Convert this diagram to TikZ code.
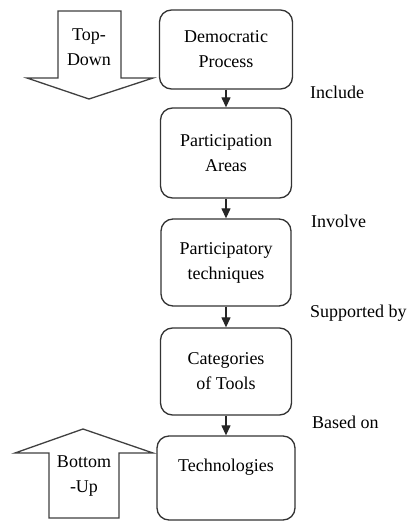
\documentclass[tikz,border=0pt]{standalone}
\usepackage{fontspec}
\setmainfont{Liberation Serif}
\newfontfamily\tnr{Liberation Serif}
\usetikzlibrary{arrows.meta}
\begin{document}
\begin{tikzpicture}[x=1pt,y=-1pt,
  every node/.style={font=\tnr\fontsize{18}{25}\selectfont, inner sep=0pt},
  box/.style={draw=black!80, line width=1.3pt, rounded corners=12pt, align=center},
  conn/.style={draw=black!85, line width=1.2pt, -{Triangle[length=10pt,width=9pt]}},
  bigarrow/.style={draw=black!75, line width=1.3pt, fill=white},
  lbl/.style={anchor=west}]
\useasboundingbox (0,0) rectangle (416,522);
\fill[white] (0,0) rectangle (416,522);
% big arrows
\draw[bigarrow] (58,11) -- (121,11) -- (121,78) -- (153,78) -- (89,99) -- (27,78) -- (58,78) -- cycle;
\node[align=center] (td) at (89,47) {Top-\\Down};
\draw[bigarrow] (49,518) -- (49,453) -- (15,453) -- (83,429) -- (153,453) -- (119,453) -- (119,518) -- cycle;
\node[align=center] (bu) at (84,476.5) {Bottom\\-Up};
% boxes
\node[box, minimum width=133pt, minimum height=79pt] (b1) at (226,49.5) {Democratic\\Process};
\node[box, minimum width=131pt, minimum height=90pt] (b2) at (226,153) {Participation\\Areas};
\node[box, minimum width=130pt, minimum height=87pt] (b3) at (226,262.5) {Participatory\\techniques};
\node[box, minimum width=131pt, minimum height=87pt] (b4) at (226,371.5) {Categories\\of Tools};
\node[box, minimum width=138pt, minimum height=84pt] (b5) at (226,478) {Technologies\\\mbox{}};
% connectors
\draw[conn] (b1) -- (b2);
\draw[conn] (b2) -- (b3);
\draw[conn] (b3) -- (b4);
\draw[conn] (b4) -- (b5);
% labels
\node[lbl] (l1) at (310,92) {Include};
\node[lbl] (l2) at (311,221) {Involve};
\node[lbl] (l3) at (310,313) {Supported by};
\node[lbl] (l4) at (312,422) {Based on};
\end{tikzpicture}
\end{document}
